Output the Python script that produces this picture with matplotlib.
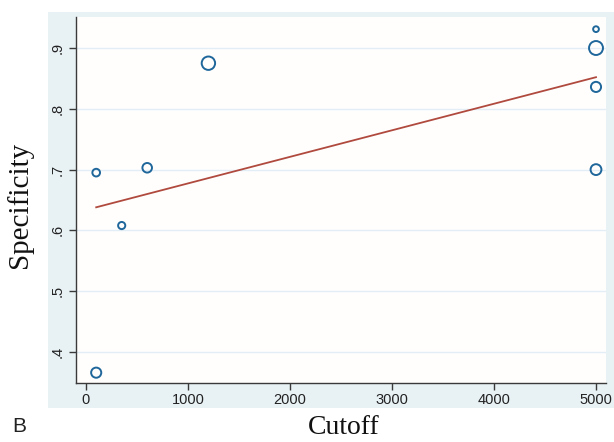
import numpy as np
import matplotlib.pyplot as plt
from matplotlib.patches import Rectangle

# Study-level cutoffs, specificities and relative weights (bubble area)
cutoff = [100, 100, 350, 600, 1200, 5000, 5000, 5000, 5000]
specificity = [0.366, 0.695, 0.608, 0.703, 0.875, 0.931, 0.900, 0.836, 0.700]
weight = [28, 16, 14, 25, 49, 9, 53, 28, 32]

# Fitted meta-regression line
fit_x = [100, 5000]
fit_y = [0.638, 0.852]

y_ticks = [0.4, 0.5, 0.6, 0.7, 0.8, 0.9]
y_ticklabels = ['.4', '.5', '.6', '.7', '.8', '.9']
x_ticks = [0, 1000, 2000, 3000, 4000, 5000]

panel_bg = '#E8F1F4'
marker_col = '#1F679B'
line_col = '#B04A3E'

fig = plt.figure(figsize=(6.14, 4.42), dpi=100)
fig.patch.set_facecolor('white')

# light bluish-grey graph region behind the plot area
fig.patches.append(Rectangle((48 / 614, 34 / 442), 1 - 48 / 614, 396 / 442,
                             transform=fig.transFigure, facecolor=panel_bg,
                             edgecolor='none', zorder=-5))

ax = fig.add_axes([76 / 614, 59 / 442, 530 / 614, 366 / 442])
ax.set_facecolor('#FFFEFD')

ax.set_xlim(-98, 5098)
ax.set_ylim(0.349, 0.951)

sizes = np.array(weight) * 1.9
ax.scatter(cutoff, specificity, s=sizes, facecolors='none',
           edgecolors=marker_col, linewidths=1.4, zorder=3)
ax.plot(fit_x, fit_y, color=line_col, linewidth=1.3, zorder=2)

ax.set_yticks(y_ticks)
ax.set_yticklabels(y_ticklabels, rotation=90, va='center')
ax.set_xticks(x_ticks)
ax.grid(axis='y', color='#E2EDF5', linewidth=1.0)
ax.set_axisbelow(True)

for side in ['top', 'right']:
    ax.spines[side].set_visible(False)
for side in ['left', 'bottom']:
    ax.spines[side].set_color('#3A3A3A')
    ax.spines[side].set_linewidth(1.0)

ax.tick_params(axis='both', colors='#3A3A3A', length=5, width=1.0,
               labelsize=10.5, labelcolor='#222222')
for lbl in ax.get_xticklabels() + ax.get_yticklabels():
    lbl.set_family('Liberation Sans')
ax.tick_params(axis='y', pad=3)
ax.tick_params(axis='x', pad=2)

fig.text(20 / 614, 1 - 205 / 442, 'Specificity', rotation=90, ha='center',
         va='center', family='Liberation Serif', fontsize=21, color='#111111')
fig.text(344 / 614, 1 - 428 / 442, 'Cutoff', ha='center', va='center',
         family='Liberation Serif', fontsize=20, color='#111111')
fig.text(12 / 614, 1 - 427 / 442, 'B', ha='left', va='center',
         family='Liberation Sans', fontsize=15, color='#222222')

fig.savefig('out.png', dpi=100, facecolor=fig.get_facecolor())
